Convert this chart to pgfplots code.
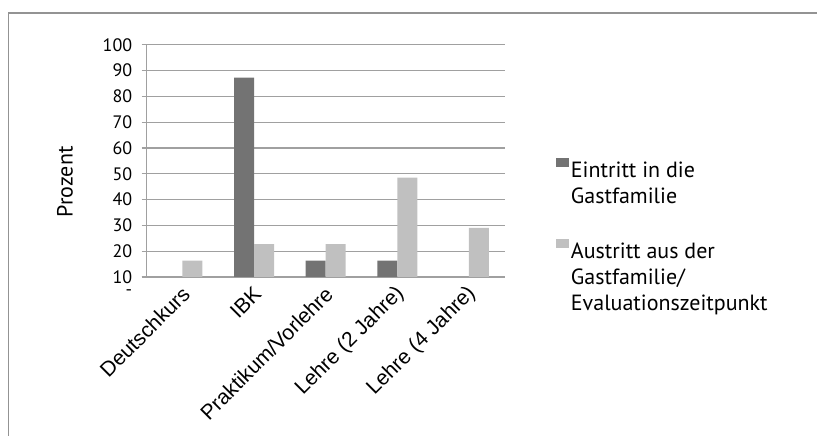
\documentclass[border=0pt]{standalone}
\usepackage{pgfplots}
\pgfplotsset{compat=1.18}
\usepackage{fontspec}
\setmainfont{PT Sans}
\newfontfamily\arialfont{Liberation Sans}
\definecolor{darkbar}{HTML}{737373}
\definecolor{lightbar}{HTML}{C0C0C0}
\definecolor{gridgray}{HTML}{A0A0A0}
\definecolor{framegray}{HTML}{939393}
\begin{document}
\begin{tikzpicture}
\useasboundingbox (0,0) rectangle (817pt,436pt);
\draw[framegray, line width=1.3pt] (8.5pt,0pt) -- (8.5pt,423pt) -- (817pt,423pt);
\begin{axis}[
  at={(146.7pt,159pt)}, anchor=south west,
  scale only axis, width=358pt, height=232.3pt,
  ybar=0pt, bar width=20pt,
  xmin=-0.5, xmax=4.5, ymin=0, ymax=90,
  axis lines*=left,
  axis line style={gridgray, line width=1.2pt},
  xtick={0,1,2,3,4},
  xticklabels={Deutschkurs,IBK,Praktikum/Vorlehre,Lehre (2 Jahre),Lehre (4 Jahre)},
  minor xtick={-0.5,0.5,1.5,2.5,3.5,4.5},
  xtick style={draw=none},
  minor x tick style={gridgray, line width=1.2pt},
  tick align=outside,
  major tick length=5pt, minor tick length=5pt,
  ytick={0,10,...,90},
  yticklabels={10,20,30,40,50,60,70,80,90,100},
  ytick style={gridgray, line width=1.2pt},
  ymajorgrids, grid style={gridgray, line width=1.2pt},
  extra y ticks={0}, extra y tick labels={-},
  extra y tick style={yticklabel style={yshift=-16pt}, ymajorgrids=false},
  yticklabel style={font=\fontsize{18}{20}\selectfont, xshift=-6pt},
  xticklabel style={font=\arialfont\fontsize{21}{23}\selectfont, xshift=5pt, yshift=-7pt, rotate=45, anchor=east, inner sep=2pt},
  ylabel={Prozent},
  ylabel style={at={(axis description cs:-0.228,0.41)}, anchor=center, font=\fontsize{22}{24}\selectfont},
  legend style={at={(axis description cs:1.144,0.511)}, anchor=north west, draw=none, fill=none,
    font=\fontsize{22}{24}\selectfont, row sep=58pt, inner sep=0pt,
    /tikz/every even column/.append style={column sep=0pt}},
  legend cell align=left,
  legend image code/.code={\fill[#1] (0pt,3pt) rectangle (12.5pt,12pt);},
  clip=false,
]
\addplot[fill=darkbar, draw=none] coordinates {(1,77.2) (2,6.3) (3,6.3)};
\addplot[fill=lightbar, draw=none] coordinates {(0,6.3) (1,12.7) (2,12.7) (3,38.5) (4,19.0)};
\legend{{\parbox[t]{240pt}{\baselineskip=26pt Eintritt in die\\Gastfamilie}},
        {\parbox[t]{240pt}{\baselineskip=26pt Austritt aus der\\Gastfamilie/\\Evaluationszeitpunkt}}}
\end{axis}
\end{tikzpicture}
\end{document}
